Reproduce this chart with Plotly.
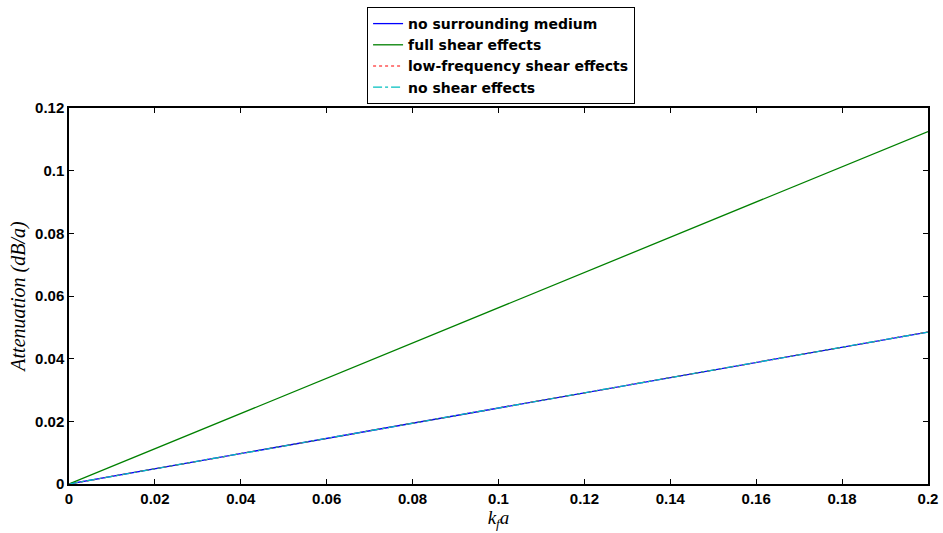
import plotly.graph_objects as go

kfa = [0.0, 0.02, 0.04, 0.06, 0.08, 0.10, 0.12, 0.14, 0.16, 0.18, 0.20]
no_surrounding = [0.0, 0.00485, 0.0097, 0.01455, 0.0194, 0.02425, 0.0291, 0.03395, 0.0388, 0.04365, 0.0485]
full_shear = [0.0, 0.01125, 0.0225, 0.03375, 0.045, 0.05625, 0.0675, 0.07875, 0.09, 0.10125, 0.1125]
low_freq_shear = [0.0, 0.00485, 0.0097, 0.01455, 0.0194, 0.02425, 0.0291, 0.03395, 0.0388, 0.04365, 0.0485]
no_shear = [0.0, 0.00485, 0.0097, 0.01455, 0.0194, 0.02425, 0.0291, 0.03395, 0.0388, 0.04365, 0.0485]

x_ticks = [0, 0.02, 0.04, 0.06, 0.08, 0.1, 0.12, 0.14, 0.16, 0.18, 0.2]
x_labels = ["0", "0.02", "0.04", "0.06", "0.08", "0.1", "0.12", "0.14", "0.16", "0.18", "0.2"]
y_ticks = [0, 0.02, 0.04, 0.06, 0.08, 0.1, 0.12]
y_labels = ["0", "0.02", "0.04", "0.06", "0.08", "0.1", "0.12"]

fig = go.Figure()
fig.add_trace(go.Scatter(x=kfa, y=no_surrounding, mode="lines", name="no surrounding medium",
                         line=dict(color="#0000ff", width=1.3)))
fig.add_trace(go.Scatter(x=kfa, y=full_shear, mode="lines", name="full shear effects",
                         line=dict(color="#008000", width=1.3)))
fig.add_trace(go.Scatter(x=kfa, y=low_freq_shear, mode="lines", name="low-frequency shear effects",
                         line=dict(color="#ff0000", width=1.2, dash="dot")))
fig.add_trace(go.Scatter(x=kfa, y=no_shear, mode="lines", name="no shear effects",
                         line=dict(color="#00bfbf", width=1.2, dash="dashdot")))

axis_common = dict(showline=True, linecolor="black", linewidth=1.5, mirror="ticks",
                   ticks="inside", ticklen=5, tickcolor="black", showgrid=False, zeroline=False,
                   automargin=False,
                   tickfont=dict(family="Arial, Liberation Sans", size=15, color="black", weight="bold"))

fig.update_layout(
    template="none",
    width=943, height=533,
    margin=dict(l=69, r=15, t=108, b=49),
    paper_bgcolor="white", plot_bgcolor="white",
    xaxis=dict(range=[0, 0.2], tickvals=x_ticks, ticktext=x_labels,
               title=dict(text="<i>k</i><sub><i>f</i></sub><i>a</i>", standoff=0,
                          font=dict(family="Times New Roman, Liberation Serif", size=19, color="black")),
               **axis_common),
    yaxis=dict(range=[0, 0.12], tickvals=y_ticks, ticktext=y_labels,
               title=dict(text="<i>Attenuation (dB/a)</i>", standoff=4,
                          font=dict(family="Times New Roman, Liberation Serif", size=20, color="black")),
               **axis_common),
    legend=dict(x=0.347, y=1 - 7 / 533, xref="paper", yref="container",
                xanchor="left", yanchor="top",
                bordercolor="black", borderwidth=1, bgcolor="white",
                itemwidth=30, tracegroupgap=0,
                font=dict(family="DejaVu Sans", size=14, color="black", weight="bold")),
    showlegend=True,
)

fig.write_html("out.html")
